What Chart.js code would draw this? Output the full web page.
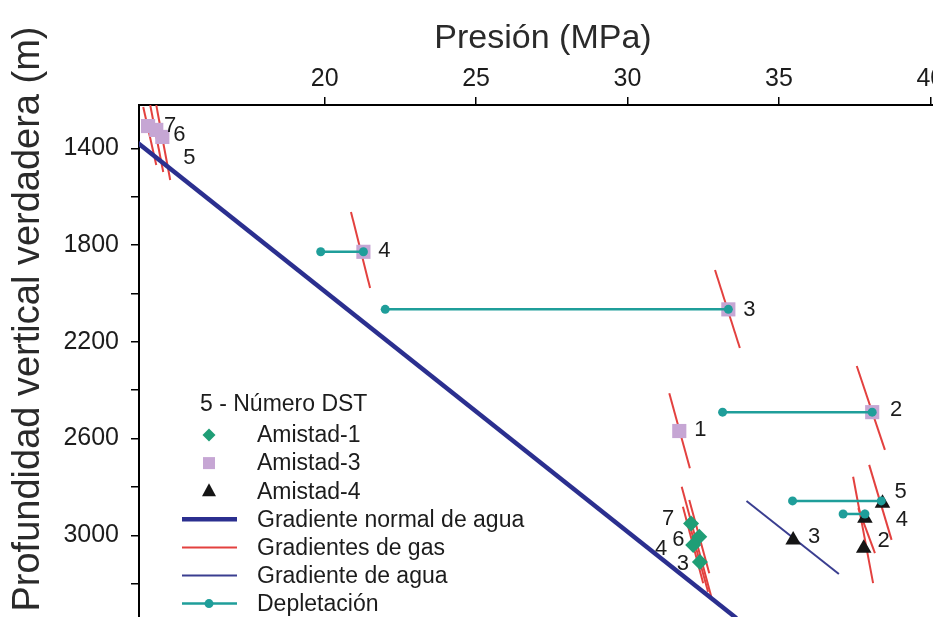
<!DOCTYPE html>
<html lang="es">
<head>
<meta charset="utf-8">
<title>Presión vs profundidad - Amistad</title>
<script src="https://cdn.jsdelivr.net/npm/chart.js@4.4.1/dist/chart.umd.min.js"></script>
<style>
  html, body { margin: 0; padding: 0; background: #fff; overflow: hidden; }
  #wrap { position: relative; width: 933px; height: 617px; overflow: hidden; }
  canvas { display: block; }
</style>
</head>
<body>
<div id="wrap"><canvas id="chart" width="947" height="617"></canvas></div>
<script>
// Ticks
const pressureTicks = [20, 25, 30, 35, 40];
const depthTicks = [1400, 1600, 1800, 2000, 2200, 2400, 2600, 2800, 3000, 3200];

// Amistad-1 (rombos)
const a1Dst = ['7', '6', '4', '3'];
const a1Pressure = [32.10, 32.37, 32.17, 32.39];
const a1Depth = [2951, 3006, 3040, 3111];

// Amistad-3 (cuadros)
const a3Dst = ['7', '6', '5', '4', '3', '1', '2'];
const a3Pressure = [14.17, 14.44, 14.64, 21.28, 33.33, 31.71, 38.08];
const a3Depth = [1308, 1324, 1353, 1828, 2066, 2569, 2491];

// Amistad-4 (triangulos)
const a4Dst = ['3', '2', '4', '5'];
const a4Pressure = [35.47, 37.80, 37.84, 38.42];
const a4Depth = [3020, 3054, 2930, 2868];

// Gradientes de gas: segmento de (presion, prof) arriba a abajo
const gasTopPressure = [14.01, 14.24, 14.44, 20.87, 32.89, 31.38, 37.57, 31.79, 32.04, 31.83, 32.10, 37.45, 37.98, 37.62];
const gasTopDepth =    [1229, 1221, 1221, 1663, 1903, 2413, 2300, 2799, 2854, 2882, 2978, 2758, 2709, 2888];
const gasBotPressure = [14.44, 14.67, 14.90, 21.50, 33.71, 32.06, 38.50, 32.78, 32.70, 32.50, 32.66, 38.11, 38.72, 38.17];
const gasBotDepth =    [1469, 1498, 1531, 1978, 2226, 2723, 2647, 3260, 3157, 3198, 3234, 3198, 3019, 3074];

// Gradiente normal de agua y gradiente de agua
const normalWaterPressure = [13.5, 33.6];
const normalWaterDepth = [1345, 3343];
const waterPressure = [33.93, 36.98];
const waterDepth = [2858, 3160];

// Depletacion: presion original -> presion medida
const depStartPressure = [19.87, 22.0, 33.14, 37.12, 35.45];
const depEndPressure = [21.28, 33.33, 38.08, 37.84, 38.38];
const depDepth = [1828, 2066, 2491, 2912, 2858];

// posicion de las etiquetas DST respecto al punto (px)
const a1LabelOffset = [[-23, -4], [-21, 3], [-32, 4], [-17, 2]];
const a3LabelOffset = [[22, 0], [23, 5], [27, 21], [21, -1], [21, 1], [21, -1], [24, -2]];
const a4LabelOffset = [[21, -3], [20, -7], [37, 2], [18, -11]];

const FONT = "'Liberation Sans', Arial, Helvetica, sans-serif";
const TEXT = '#1c1c1c';
const NAVY = '#2b2f8f';
const RED = '#e3413f';
const TEAL = '#1f9e9a';
const GREEN = '#1f9e76';
const LILAC = '#c6a6d4';

Chart.defaults.font.family = FONT;
Chart.defaults.color = TEXT;

const pts = (xs, ys) => xs.map((x, i) => ({ x: x, y: ys[i] }));

const datasets = [];

// gas gradients (bottom layer)
gasTopPressure.forEach((p, i) => {
    datasets.push({
        data: [{ x: p, y: gasTopDepth[i] }, { x: gasBotPressure[i], y: gasBotDepth[i] }],
        showLine: true, borderColor: RED, borderWidth: 2, pointRadius: 0, order: 5
    });
});

datasets.push({
    data: pts(normalWaterPressure, normalWaterDepth),
    showLine: true, borderColor: NAVY, borderWidth: 4.5, pointRadius: 0, order: 4
});
datasets.push({
    data: pts(waterPressure, waterDepth),
    showLine: true, borderColor: '#3a3e90', borderWidth: 2, pointRadius: 0, order: 4
});

datasets.push({
    label: 'Amistad-1', data: pts(a1Pressure, a1Depth),
    pointStyle: 'rectRot', pointRadius: 8, backgroundColor: GREEN, borderWidth: 0, order: 2,
    dstLabels: a1Dst, labelOffsets: a1LabelOffset
});
datasets.push({
    label: 'Amistad-3', data: pts(a3Pressure, a3Depth),
    pointStyle: 'rect', pointRadius: 10, backgroundColor: LILAC, borderWidth: 0, order: 3,
    dstLabels: a3Dst, labelOffsets: a3LabelOffset
});
datasets.push({
    label: 'Amistad-4', data: pts(a4Pressure, a4Depth),
    pointStyle: 'triangle', pointRadius: 9, backgroundColor: '#151515', borderWidth: 0, order: 2,
    dstLabels: a4Dst, labelOffsets: a4LabelOffset
});

// depletion on top
depStartPressure.forEach((p, i) => {
    datasets.push({
        data: [{ x: p, y: depDepth[i] }, { x: depEndPressure[i], y: depDepth[i] }],
        showLine: true, borderColor: TEAL, borderWidth: 2.5,
        pointRadius: 4.5, pointBackgroundColor: TEAL, pointBorderWidth: 0, order: 1
    });
});

// DST numbers next to the markers
const dstLabels = {
    id: 'dstLabels',
    afterDatasetsDraw(chart) {
        const ctx = chart.ctx;
        ctx.save();
        ctx.font = '22px ' + FONT;
        ctx.fillStyle = TEXT;
        ctx.textAlign = 'center';
        ctx.textBaseline = 'middle';
        chart.data.datasets.forEach((ds, i) => {
            if (!ds.dstLabels) return;
            chart.getDatasetMeta(i).data.forEach((el, j) => {
                const off = ds.labelOffsets[j];
                ctx.fillText(ds.dstLabels[j], el.x + off[0], el.y + off[1]);
            });
        });
        ctx.restore();
    }
};

// legend box + y title
const legendItems = [
    { text: 'Amistad-1', kind: 'diamond', color: GREEN },
    { text: 'Amistad-3', kind: 'square', color: LILAC },
    { text: 'Amistad-4', kind: 'triangle', color: '#151515' },
    { text: 'Gradiente normal de agua', kind: 'line', color: NAVY, width: 4.5 },
    { text: 'Gradientes de gas', kind: 'line', color: RED, width: 2 },
    { text: 'Gradiente de agua', kind: 'line', color: '#3a3e90', width: 2 },
    { text: 'Depletación', kind: 'dotline', color: TEAL, width: 2.5 }
];

const extras = {
    id: 'extras',
    afterDraw(chart) {
        const ctx = chart.ctx;
        ctx.save();

        // y axis title
        ctx.save();
        ctx.translate(29, 319);
        ctx.rotate(-Math.PI / 2);
        ctx.font = '38px ' + FONT;
        ctx.fillStyle = '#2a2a2a';
        ctx.textAlign = 'center';
        ctx.textBaseline = 'middle';
        ctx.fillText('Profundidad vertical verdadera (m)', 0, 0);
        ctx.restore();

        // legend
        const mx = 209, tx = 257;
        ctx.font = '23px ' + FONT;
        ctx.fillStyle = TEXT;
        ctx.textBaseline = 'middle';
        ctx.textAlign = 'left';
        ctx.fillText('5 - Número DST', 200, 405);

        legendItems.forEach((it, i) => {
            const y = 435 + i * 28.1;
            ctx.fillStyle = it.color;
            ctx.strokeStyle = it.color;
            if (it.kind === 'diamond') {
                ctx.beginPath();
                ctx.moveTo(mx, y - 6.5); ctx.lineTo(mx + 6.5, y);
                ctx.lineTo(mx, y + 6.5); ctx.lineTo(mx - 6.5, y);
                ctx.closePath(); ctx.fill();
            } else if (it.kind === 'square') {
                ctx.fillRect(mx - 6, y - 6, 12, 12);
            } else if (it.kind === 'triangle') {
                ctx.beginPath();
                ctx.moveTo(mx, y - 8); ctx.lineTo(mx + 7, y + 5); ctx.lineTo(mx - 7, y + 5);
                ctx.closePath(); ctx.fill();
            } else {
                ctx.lineWidth = it.width;
                ctx.beginPath();
                ctx.moveTo(182, y); ctx.lineTo(237, y);
                ctx.stroke();
                if (it.kind === 'dotline') {
                    ctx.beginPath();
                    ctx.arc(mx, y, 4.5, 0, Math.PI * 2);
                    ctx.fill();
                }
            }
            ctx.fillStyle = TEXT;
            ctx.fillText(it.text, tx, y + 1);
        });
        ctx.restore();
    }
};

new Chart(document.getElementById('chart'), {
    type: 'scatter',
    data: { datasets: datasets },
    options: {
        responsive: false,
        animation: false,
        events: [],
        layout: { padding: 0, autoPadding: false },
        plugins: {
            legend: { display: false },
            tooltip: { enabled: false }
        },
        scales: {
            x: {
                type: 'linear',
                position: 'top',
                min: 13.87,
                max: 40.55,
                afterBuildTicks: (scale) => { scale.ticks = pressureTicks.map(v => ({ value: v })); },
                afterFit: (scale) => {
                    scale.height = 105;
                    scale.paddingLeft = 0;
                    scale.paddingRight = 0;
                },
                ticks: { font: { size: 25 }, color: TEXT, padding: 3, maxRotation: 0 },
                grid: { drawOnChartArea: false, drawTicks: true, tickLength: 8, color: '#000', lineWidth: 1.5 },
                border: { display: true, color: '#000', width: 2 },
                title: {
                    display: true,
                    text: 'Presión (MPa)',
                    font: { size: 34 },
                    color: '#2a2a2a',
                    padding: { top: 18, bottom: 0 }
                }
            },
            y: {
                type: 'linear',
                position: 'left',
                reverse: true,
                min: 1221,
                max: 3338,
                afterBuildTicks: (scale) => { scale.ticks = depthTicks.map(v => ({ value: v })); },
                afterFit: (scale) => {
                    scale.width = 139;
                    scale.paddingTop = 0;
                    scale.paddingBottom = 0;
                },
                ticks: {
                    font: { size: 25 },
                    color: TEXT,
                    padding: 12,
                    callback: (v) => (v % 400 === 200 ? String(v) : '')
                },
                grid: { drawOnChartArea: false, drawTicks: true, tickLength: 8, color: '#000', lineWidth: 1.5 },
                border: { display: true, color: '#000', width: 2 },
                title: { display: false }
            }
        }
    },
    plugins: [dstLabels, extras]
});
</script>
</body>
</html>
